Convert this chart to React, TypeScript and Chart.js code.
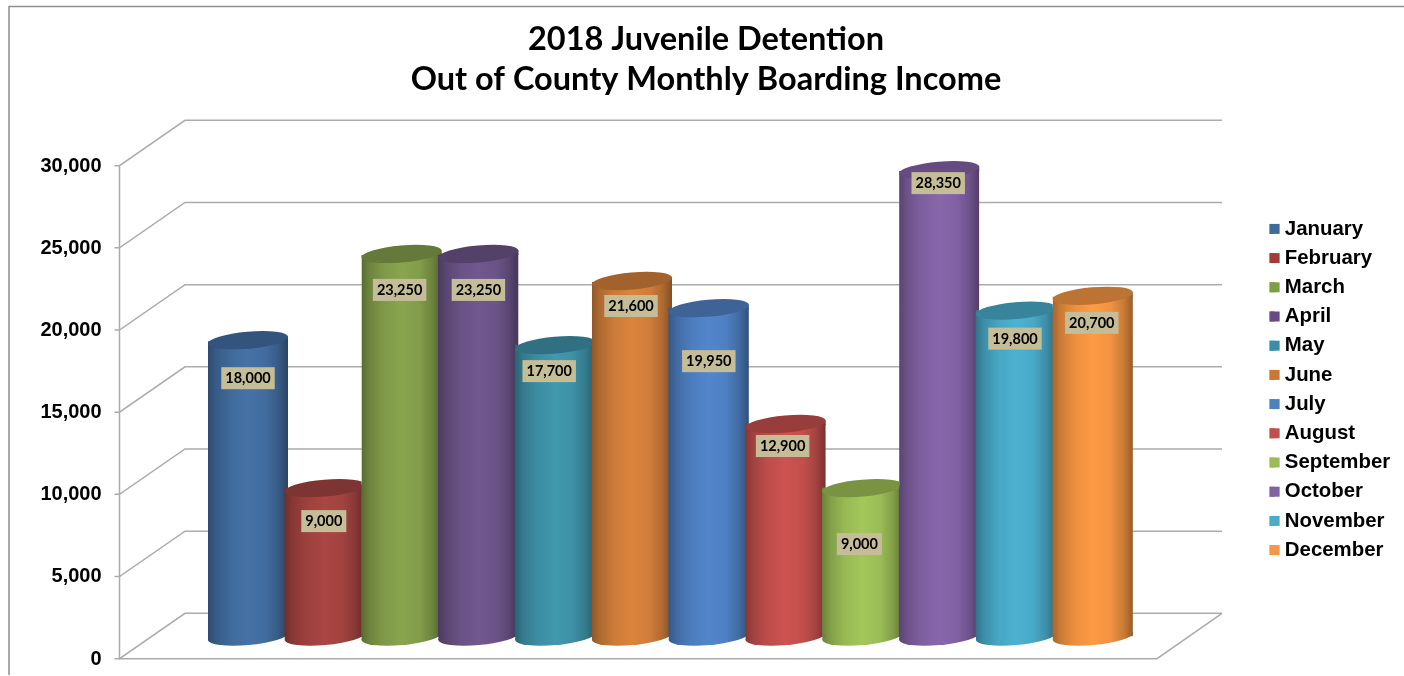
import React, { useEffect, useRef } from "react";
import { Chart, registerables } from "chart.js";

Chart.register(...registerables);

const months = ["January", "February", "March", "April", "May", "June", "July", "August", "September", "October", "November", "December"];
const income = [18000, 9000, 23250, 23250, 17700, 21600, 19950, 12900, 9000, 28350, 19800, 20700];
const barColors = ["#4572A7", "#AA4643", "#89A54E", "#71588F", "#4198AF", "#DB843D", "#5286CC", "#CC5350", "#A3C75A", "#8866AC", "#4CB2D2", "#FE9B45"];
const legendColors = ["#3F6A9C", "#A13C3A", "#7F9C47", "#664B86", "#3A8EA6", "#CA7734", "#4F81BD", "#C0504D", "#9BBB59", "#8064A2", "#4BACC6", "#F79646"];
const titleLines = ["2018 Juvenile Detention", "Out of County Monthly Boarding Income"];

// Where each value tag sits below its bar's top, and any sideways nudge.
const labelDrops = [38, 33, 36, 36, 26, 25, 53, 22, 56, 13, 28, 27];
const labelNudges = [0, -1, -2, 0, -6, -1, 0, -3, -3, -1, -1, -1];

const DEPTH_Y = 22.7;
const FRONT_X = 119.5;
const BACK_X = 185;
const BACK_RIGHT = 1222;
const FRONT_RIGHT = 1157;
const RX = 40.3;
const RY = 8.5;
const TILT = (-5 * Math.PI) / 180;
const LINE = "#ababab";

function shade(hex: string, k: number) {
  const n = parseInt(hex.slice(1), 16);
  const c = [(n >> 16) & 255, (n >> 8) & 255, n & 255].map((v) => Math.round(v * k));
  return `rgb(${c[0]},${c[1]},${c[2]})`;
}

function bodyGradient(ctx: CanvasRenderingContext2D, cx: number, color: string) {
  const g = ctx.createLinearGradient(cx - 40, 0, cx + 40, 0);
  const stops: [number, number][] = [[0, 0.66], [0.1, 0.8], [0.28, 0.93], [0.5, 1], [0.72, 0.95], [0.88, 0.8], [1, 0.6]];
  stops.forEach(([p, k]) => g.addColorStop(p, shade(color, k)));
  return g;
}

const cylinders = {
  id: "cylinders",
  beforeDraw(chart: any) {
    const { ctx, width, height } = chart;
    ctx.save();
    ctx.fillStyle = "#ffffff";
    ctx.fillRect(0, 0, width, height);
    ctx.strokeStyle = "#8f8f8f";
    ctx.lineWidth = 1.5;
    ctx.beginPath();
    ctx.moveTo(width, 6.5);
    ctx.lineTo(9, 6.5);
    ctx.lineTo(9, height - 1);
    ctx.stroke();
    ctx.restore();
  },
  beforeDatasetsDraw(chart: any) {
    const { ctx } = chart;
    const y = chart.scales.y;
    ctx.save();
    ctx.strokeStyle = LINE;
    ctx.lineWidth = 1.5;
    y.ticks.forEach((t: any) => {
      const p = y.getPixelForValue(t.value);
      ctx.beginPath();
      ctx.moveTo(FRONT_X - 5, p + DEPTH_Y);
      ctx.lineTo(FRONT_X, p + DEPTH_Y);
      ctx.lineTo(BACK_X, p - DEPTH_Y);
      ctx.lineTo(BACK_RIGHT, p - DEPTH_Y);
      ctx.stroke();
    });
    const top = y.getPixelForValue(30000);
    const zero = y.getPixelForValue(0);
    ctx.beginPath();
    ctx.moveTo(FRONT_X, top + DEPTH_Y);
    ctx.lineTo(FRONT_X, zero + DEPTH_Y);
    ctx.lineTo(FRONT_RIGHT, zero + DEPTH_Y);
    ctx.lineTo(BACK_RIGHT, zero - DEPTH_Y);
    ctx.stroke();
    const meta = chart.getDatasetMeta(0);
    const dy = Math.sin(-TILT) * RX;
    meta.data.forEach((bar: any, i: number) => {
      ctx.fillStyle = bodyGradient(ctx, bar.x, barColors[i]);
      ctx.beginPath();
      ctx.moveTo(bar.x - 40, bar.base - 1);
      ctx.lineTo(bar.x + 40, bar.base - 1);
      ctx.lineTo(bar.x + 40, bar.base + 0.5 - dy);
      ctx.lineTo(bar.x - 40, bar.base + 0.5 + dy);
      ctx.closePath();
      ctx.fill();
      ctx.beginPath();
      ctx.ellipse(bar.x, bar.base + 0.5, RX, RY, TILT, 0, Math.PI * 2);
      ctx.fill();
    });
    ctx.restore();
  },
  beforeDatasetDraw(chart: any) {
    // Trim the square top corners off the library's bars so the tilted caps sit cleanly.
    const { ctx } = chart;
    const meta = chart.getDatasetMeta(0);
    const dy = Math.sin(-TILT) * RX;
    ctx.save();
    ctx.beginPath();
    meta.data.forEach((bar: any) => {
      ctx.moveTo(bar.x - 40, bar.base + 2);
      ctx.lineTo(bar.x - 40, bar.y + dy);
      ctx.lineTo(bar.x + 40, bar.y - dy);
      ctx.lineTo(bar.x + 40, bar.base + 2);
      ctx.closePath();
    });
    ctx.clip();
  },
  afterDatasetDraw(chart: any) {
    chart.ctx.restore();
  },
  afterDatasetsDraw(chart: any) {
    const { ctx } = chart;
    const meta = chart.getDatasetMeta(0);
    ctx.save();
    const dy = Math.sin(-TILT) * RX;
    meta.data.forEach((bar: any, i: number) => {
      const next = meta.data[i + 1];
      ctx.save();
      if (next && next.y < bar.y) {
        ctx.beginPath();
        ctx.rect(0, 0, next.x - 40, chart.height);
        ctx.clip();
      }
      ctx.fillStyle = bodyGradient(ctx, bar.x, barColors[i]);
      ctx.beginPath();
      ctx.moveTo(bar.x - 40, bar.y + dy);
      ctx.lineTo(bar.x + 40, bar.y - dy);
      ctx.lineTo(bar.x + 40, bar.y + 1);
      ctx.lineTo(bar.x - 40, bar.y + 1);
      ctx.closePath();
      ctx.fill();
      ctx.fillStyle = shade(barColors[i], 0.74);
      ctx.beginPath();
      ctx.ellipse(bar.x, bar.y, RX, RY, TILT, 0, Math.PI * 2);
      ctx.fill();
      ctx.restore();
    });
    ctx.font = "bold 14.5px Lato";
    ctx.textAlign = "center";
    ctx.textBaseline = "middle";
    meta.data.forEach((bar: any, i: number) => {
      const cx = bar.x + labelNudges[i];
      const cy = bar.y + labelDrops[i];
      const text = income[i].toLocaleString("en-US");
      const w = ctx.measureText(text).width + 8;
      ctx.fillStyle = "#C4BD97";
      ctx.fillRect(cx - w / 2, cy - 11, w, 22);
      ctx.fillStyle = "#000000";
      ctx.fillText(text, cx, cy + 0.5);
    });
    ctx.restore();
  },
  afterDraw(chart: any) {
    const { ctx, legend } = chart;
    ctx.save();
    legend.legendHitBoxes.forEach((hit: any, i: number) => {
      ctx.fillStyle = legendColors[i];
      ctx.fillRect(hit.left, hit.top + hit.height / 2 - 5, 10, 10);
    });
    ctx.restore();
  },
};

export default function App() {
  const ref = useRef<HTMLCanvasElement>(null);
  useEffect(() => {
    const canvas = ref.current;
    if (!canvas) return;
    const chart = new Chart(canvas, {
      type: "bar",
      data: {
        labels: months,
        datasets: [
          {
            label: "Income",
            data: income,
            borderWidth: 0,
            barThickness: 80,
            clip: false,
            backgroundColor: (c: any) => {
              const ch = c.chart;
              if (!ch.chartArea) return barColors[c.dataIndex];
              return bodyGradient(ch.ctx, ch.scales.x.getPixelForValue(c.dataIndex), barColors[c.dataIndex]);
            },
          },
        ],
      },
      options: {
        responsive: false,
        animation: false,
        devicePixelRatio: 1,
        layout: { padding: { left: 11.8, right: 3.8, top: 0, bottom: 40 } },
        scales: {
          x: { display: false },
          y: {
            min: 0,
            max: 30000,
            afterFit: (s: any) => {
              s.width = 197.8;
              s.paddingTop = 0;
              s.paddingBottom = 0;
            },
            border: { display: false },
            grid: { display: false, drawTicks: false },
            ticks: {
              stepSize: 5000,
              padding: 108,
              labelOffset: 23,
              color: "#000000",
              font: { family: "Liberation Sans", size: 20, weight: "bold" },
              callback: (v: any) => Number(v).toLocaleString("en-US"),
            },
          },
          spacer: {
            position: "right",
            afterFit: (s: any) => {
              s.width = 129.6;
            },
            border: { display: false },
            grid: { display: false },
            ticks: { display: false },
          },
        },
        plugins: {
          tooltip: { enabled: false },
          title: {
            display: true,
            text: titleLines,
            color: "#000000",
            padding: { top: 20, bottom: 43 },
            font: { family: "Lato", size: 32.5, weight: "bold", lineHeight: 1.2308 },
          },
          legend: {
            position: "right",
            fullSize: false,
            labels: {
              boxWidth: 5,
              boxHeight: 10,
              padding: 8.8,
              color: "#000000",
              font: { family: "Liberation Sans", size: 20.4, weight: "bold" },
              generateLabels: () =>
                months.map((m, i) => ({
                  text: m,
                  fillStyle: legendColors[i],
                  strokeStyle: legendColors[i],
                  lineWidth: 0,
                  hidden: false,
                  index: i,
                })),
            },
          },
        },
      } as any,
      plugins: [cylinders],
    });
    return () => chart.destroy();
  }, []);
  return (
    <canvas
      ref={ref}
      width={1404}
      height={676}
      style={{ position: "absolute", left: 0, top: 0, width: 1404, height: 676 }}
    />
  );
}
